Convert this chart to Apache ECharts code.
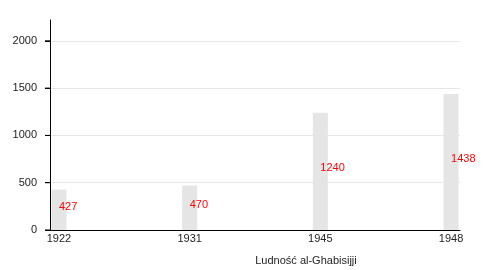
<!DOCTYPE html>
<html><head><meta charset="utf-8">
<script src="https://cdn.jsdelivr.net/npm/echarts@6/dist/echarts.min.js"></script>
<style>html,body{margin:0;padding:0;background:#fff}#c{width:500px;height:270px}</style>
</head><body><div id="c"></div>
<script>
const years = ['1922', '1931', '1945', '1948'];
const population = [427, 470, 1240, 1438];
const yTicks = [0, 500, 1000, 1500, 2000];
const xTitle = 'Ludność al-Ghabisijji';

const idx = years.map((_, i) => i);
const xMin = -0.0687, xMax = 3.0687;
const chart = echarts.init(document.getElementById('c'), null, {renderer: 'canvas'});
chart.setOption({
  animation: false,
  textStyle: {fontFamily: 'Liberation Sans, Arial, sans-serif'},
  title: {
    text: xTitle, left: 301, top: 250, textAlign: 'center',
    textStyle: {fontSize: 11, fontWeight: 'normal', color: '#222'}
  },
  grid: {left: 50, right: 40, top: 20, bottom: 40, containLabel: false},
  xAxis: {
    type: 'value', min: xMin, max: xMax,
    axisLine: {show: true, onZero: false, lineStyle: {color: '#000', width: 1}},
    axisTick: {show: false},
    splitLine: {show: false},
    axisLabel: {customValues: idx, formatter: v => years[Math.round(v)], fontSize: 11, color: '#222', margin: 3}
  },
  yAxis: {
    type: 'value', min: 0, max: 2220, interval: 500,
    axisLine: {show: true, onZero: false, lineStyle: {color: '#000', width: 1}},
    axisTick: {show: true, length: 5, inside: false, lineStyle: {color: '#000', width: 1}},
    axisLabel: {
      showMaxLabel: false, margin: 0, fontSize: 11, color: '#222',
      formatter: v => (v % 500 === 0 ? '{v|' + v + '}{g|}{t|}' : ''),
      rich: {
        v: {fontSize: 11, color: '#222'},
        g: {width: 8, height: 1},
        t: {width: 5, height: 1, backgroundColor: '#000'}
      }
    },
    splitLine: {show: true, showMaxLine: false, lineStyle: {color: '#e6e6e6'}}
  },
  series: [{
    type: 'bar', barWidth: 15,
    data: population.map((v, i) => [i, v]),
    itemStyle: {color: '#e5e5e5'},
    label: {
      show: true, position: ['50%', '50%'], offset: [0, -3], align: 'left', verticalAlign: 'middle',
      color: '#ff0000', fontSize: 11
    }
  }]
});
</script></body></html>
